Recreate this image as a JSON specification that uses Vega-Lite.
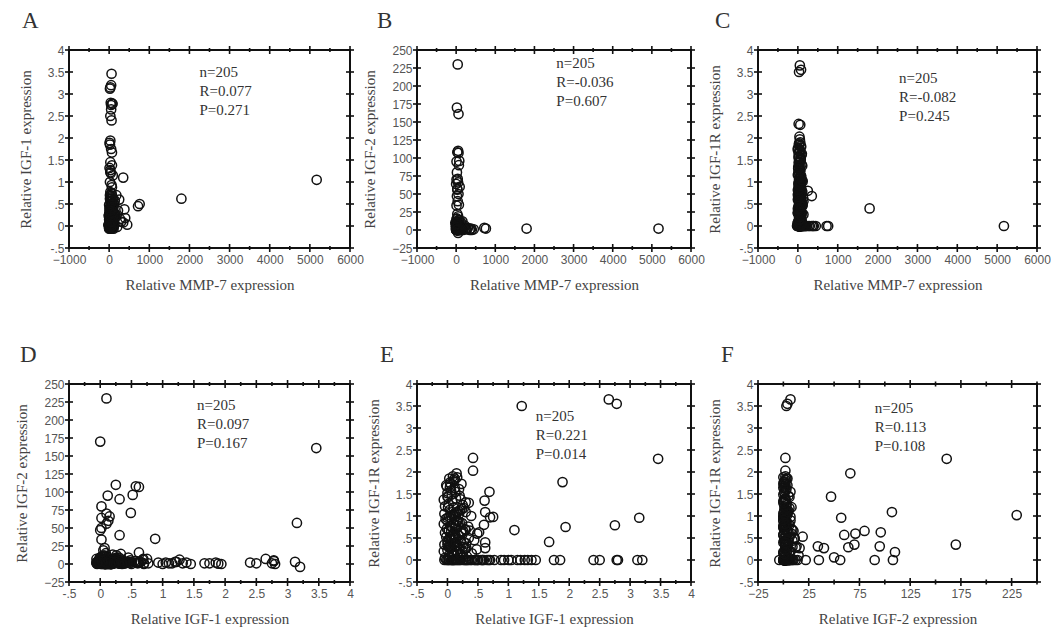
{
"$schema": "https://vega.github.io/schema/vega-lite/v6.json",
"background": "white",
"padding": {"left": 13, "top": 8, "right": 5, "bottom": 5},
"bounds": "flush",
"align": "each",
"columns": 3,
"spacing": {"row": 136, "column": 67},
"config": {
  "view": {"stroke": "#111", "strokeWidth": 2},
  "axis": {"grid": false, "domain": false, "ticks": false, "labelFont": "Liberation Sans", "labelFontSize": 12, "labelColor": "#555", "labelFlush": false, "labelOverlap": false, "labelBound": false, "titleFont": "Liberation Serif", "titleFontSize": 15, "titleFontWeight": "normal", "titleColor": "#444"},
  "axisX": {"titlePadding": 12, "labelPadding": 6},
  "axisY": {"titlePadding": 14, "labelPadding": 5},
  "title": {"font": "Liberation Serif", "fontSize": 23, "fontWeight": "normal", "color": "#333"}
},
"datasets": {
"tMMP": [{"v":-1000},{"v":-500},{"v":0},{"v":500},{"v":1000},{"v":1500},{"v":2000},{"v":2500},{"v":3000},{"v":3500},{"v":4000},{"v":4500},{"v":5000},{"v":5500},{"v":6000}],
"tIGF": [{"v":-0.5},{"v":0},{"v":0.5},{"v":1},{"v":1.5},{"v":2},{"v":2.5},{"v":3},{"v":3.5},{"v":4}],
"tIGFx": [{"v":-0.5},{"v":-0.25},{"v":0},{"v":0.25},{"v":0.5},{"v":0.75},{"v":1},{"v":1.25},{"v":1.5},{"v":1.75},{"v":2},{"v":2.25},{"v":2.5},{"v":2.75},{"v":3},{"v":3.25},{"v":3.5},{"v":3.75},{"v":4}],
"tIGF2": [{"v":-25},{"v":0},{"v":25},{"v":50},{"v":75},{"v":100},{"v":125},{"v":150},{"v":175},{"v":200},{"v":225},{"v":250}],
"samples": [
{"mmp7":40,"igf1":0.10,"igf2":230,"igf1r":1.02},
{"mmp7":20,"igf1":0.00,"igf2":170,"igf1r":0.35},
{"mmp7":60,"igf1":3.46,"igf2":161,"igf1r":2.30},
{"mmp7":30,"igf1":3.15,"igf2":57,"igf1r":0.96},
{"mmp7":50,"igf1":0.25,"igf2":110,"igf1r":0.18},
{"mmp7":10,"igf1":0.12,"igf2":95,"igf1r":0.31},
{"mmp7":70,"igf1":0.31,"igf2":90,"igf1r":0.00},
{"mmp7":20,"igf1":0.02,"igf2":80,"igf1r":0.66},
{"mmp7":80,"igf1":0.52,"igf2":96,"igf1r":0.63},
{"mmp7":30,"igf1":0.57,"igf2":108,"igf1r":0.00},
{"mmp7":60,"igf1":0.62,"igf2":107,"igf1r":1.09},
{"mmp7":40,"igf1":0.49,"igf2":71,"igf1r":0.60},
{"mmp7":10,"igf1":0.10,"igf2":70,"igf1r":0.35},
{"mmp7":50,"igf1":0.15,"igf2":66,"igf1r":1.97},
{"mmp7":0,"igf1":0.02,"igf2":64,"igf1r":0.29},
{"mmp7":90,"igf1":0.13,"igf2":60,"igf1r":0.57},
{"mmp7":30,"igf1":0.10,"igf2":56,"igf1r":0.00},
{"mmp7":20,"igf1":0.00,"igf2":47,"igf1r":1.44},
{"mmp7":60,"igf1":0.02,"igf2":50,"igf1r":0.06},
{"mmp7":40,"igf1":0.31,"igf2":40,"igf1r":0.27},
{"mmp7":10,"igf1":0.02,"igf2":34,"igf1r":0.31},
{"mmp7":70,"igf1":0.88,"igf2":35,"igf1r":0.00},
{"mmp7":30,"igf1":0.07,"igf2":22,"igf1r":0.00},
{"mmp7":50,"igf1":0.05,"igf2":19,"igf1r":0.53},
{"mmp7":20,"igf1":0.62,"igf2":16,"igf1r":0.27},
{"mmp7":80,"igf1":0.20,"igf2":13,"igf1r":0.31},
{"mmp7":40,"igf1":0.10,"igf2":11,"igf1r":0.50},
{"mmp7":60,"igf1":0.30,"igf2":9,"igf1r":0.68},
{"mmp7":30,"igf1":1.27,"igf2":6,"igf1r":0.00},
{"mmp7":30,"igf1":1.22,"igf2":3,"igf1r":3.50},
{"mmp7":50,"igf1":2.65,"igf2":7,"igf1r":3.65},
{"mmp7":80,"igf1":2.78,"igf2":4,"igf1r":3.55},
{"mmp7":20,"igf1":0.42,"igf2":2,"igf1r":2.32},
{"mmp7":40,"igf1":0.42,"igf2":2,"igf1r":2.03},
{"mmp7":10,"igf1":1.89,"igf2":0.5,"igf1r":1.77},
{"mmp7":30,"igf1":0.12,"igf2":3,"igf1r":1.85},
{"mmp7":20,"igf1":0.04,"igf2":1,"igf1r":1.65},
{"mmp7":50,"igf1":0.23,"igf2":2,"igf1r":1.73},
{"mmp7":70,"igf1":0.69,"igf2":7,"igf1r":1.55},
{"mmp7":40,"igf1":0.61,"igf2":2,"igf1r":1.35},
{"mmp7":60,"igf1":0.75,"igf2":7,"igf1r":0.98},
{"mmp7":20,"igf1":0.70,"igf2":1,"igf1r":0.97},
{"mmp7":80,"igf1":0.39,"igf2":1,"igf1r":1.00},
{"mmp7":350,"igf1":1.10,"igf2":1,"igf1r":0.68},
{"mmp7":30,"igf1":1.94,"igf2":0,"igf1r":0.75},
{"mmp7":50,"igf1":2.75,"igf2":1,"igf1r":0.79},
{"mmp7":70,"igf1":1.67,"igf2":1,"igf1r":0.41},
{"mmp7":1800,"igf1":0.62,"igf2":2,"igf1r":0.40},
{"mmp7":40,"igf1":0.37,"igf2":4,"igf1r":0.67},
{"mmp7":5170,"igf1":1.05,"igf2":2,"igf1r":0.00},
{"mmp7":720,"igf1":0.45,"igf2":3,"igf1r":0.00},
{"mmp7":760,"igf1":0.50,"igf2":2,"igf1r":0.00},
{"mmp7":250,"igf1":0.60,"igf2":2,"igf1r":0.80},
{"mmp7":30,"igf1":0.77,"igf2":1,"igf1r":0},
{"mmp7":60,"igf1":0.93,"igf2":2,"igf1r":0},
{"mmp7":20,"igf1":1.00,"igf2":0,"igf1r":0},
{"mmp7":90,"igf1":1.15,"igf2":1,"igf1r":0},
{"mmp7":40,"igf1":1.20,"igf2":3,"igf1r":0},
{"mmp7":10,"igf1":1.32,"igf2":1,"igf1r":0},
{"mmp7":70,"igf1":1.38,"igf2":2,"igf1r":0},
{"mmp7":30,"igf1":1.45,"igf2":0,"igf1r":0},
{"mmp7":50,"igf1":1.75,"igf2":1,"igf1r":0},
{"mmp7":20,"igf1":1.85,"igf2":2,"igf1r":0},
{"mmp7":60,"igf1":2.40,"igf2":2,"igf1r":0},
{"mmp7":30,"igf1":2.50,"igf2":1,"igf1r":0},
{"mmp7":80,"igf1":2.78,"igf2":5,"igf1r":0},
{"mmp7":40,"igf1":2.80,"igf2":0,"igf1r":0},
{"mmp7":20,"igf1":3.12,"igf2":3,"igf1r":0},
{"mmp7":50,"igf1":3.20,"igf2":-4,"igf1r":0},
{"mmp7":0,"igf1":-0.05,"igf2":0,"igf1r":0},
{"mmp7":120,"igf1":0,"igf2":2,"igf1r":0},
{"mmp7":450,"igf1":0.03,"igf2":1,"igf1r":0},
{"mmp7":60,"igf1":0.06,"igf2":5,"igf1r":0},
{"mmp7":300,"igf1":0.1,"igf2":3,"igf1r":0},
{"mmp7":20,"igf1":0.14,"igf2":8,"igf1r":0},
{"mmp7":400,"igf1":0.18,"igf2":0,"igf1r":0},
{"mmp7":90,"igf1":0.22,"igf2":4,"igf1r":0},
{"mmp7":160,"igf1":0.26,"igf2":12,"igf1r":0},
{"mmp7":40,"igf1":0.3,"igf2":1,"igf1r":0},
{"mmp7":220,"igf1":0.35,"igf2":6,"igf1r":0},
{"mmp7":10,"igf1":0.4,"igf2":2,"igf1r":0},
{"mmp7":70,"igf1":0.45,"igf2":9,"igf1r":0},
{"mmp7":130,"igf1":0.5,"igf2":0,"igf1r":0},
{"mmp7":30,"igf1":0.55,"igf2":4,"igf1r":0},
{"mmp7":100,"igf1":0.6,"igf2":1,"igf1r":0},
{"mmp7":50,"igf1":0.65,"igf2":3,"igf1r":0},
{"mmp7":180,"igf1":0.7,"igf2":0,"igf1r":0},
{"mmp7":-20,"igf1":0.02,"igf2":10,"igf1r":0},
{"mmp7":350,"igf1":0.08,"igf2":0,"igf1r":0},
{"mmp7":80,"igf1":0.12,"igf2":2,"igf1r":0},
{"mmp7":270,"igf1":0.16,"igf2":1,"igf1r":0},
{"mmp7":20,"igf1":0.2,"igf2":7,"igf1r":0},
{"mmp7":110,"igf1":0.28,"igf2":3,"igf1r":0},
{"mmp7":60,"igf1":0.33,"igf2":14,"igf1r":0},
{"mmp7":380,"igf1":0.38,"igf2":2,"igf1r":0},
{"mmp7":0,"igf1":0.48,"igf2":5,"igf1r":0},
{"mmp7":140,"igf1":0.58,"igf2":2,"igf1r":0},
{"mmp7":30,"igf1":0.68,"igf2":6,"igf1r":0},
{"mmp7":200,"igf1":-0.02,"igf2":3,"igf1r":0},
{"mmp7":10,"igf1":-0.04,"igf2":1,"igf1r":0.05},
{"mmp7":50,"igf1":0.02,"igf2":3,"igf1r":0.1},
{"mmp7":90,"igf1":0.08,"igf2":0,"igf1r":0.15},
{"mmp7":30,"igf1":0.14,"igf2":6,"igf1r":0.2},
{"mmp7":70,"igf1":0.2,"igf2":2,"igf1r":0.25},
{"mmp7":0,"igf1":0.26,"igf2":9,"igf1r":0.3},
{"mmp7":110,"igf1":0.32,"igf2":1,"igf1r":0.08},
{"mmp7":40,"igf1":0.0,"igf2":4,"igf1r":0.22},
{"mmp7":20,"igf1":0.06,"igf2":12,"igf1r":0.28},
{"mmp7":80,"igf1":0.11,"igf2":2,"igf1r":0.12},
{"mmp7":60,"igf1":0.17,"igf2":0,"igf1r":0.18},
{"mmp7":-10,"igf1":0.23,"igf2":5,"igf1r":0.06},
{"mmp7":140,"igf1":0.29,"igf2":3,"igf1r":0.26},
{"mmp7":30,"igf1":0.4,"igf2":1,"igf1r":0.15},
{"mmp7":50,"igf1":-0.06,"igf2":7,"igf1r":0.2},
{"mmp7":100,"igf1":0.04,"igf2":2,"igf1r":0.3},
{"mmp7":10,"igf1":0.09,"igf2":15,"igf1r":0.1},
{"mmp7":70,"igf1":0.15,"igf2":4,"igf1r":0.03},
{"mmp7":40,"igf1":0.21,"igf2":1,"igf1r":0.14},
{"mmp7":90,"igf1":0.48,"igf2":2,"igf1r":0.24},
{"mmp7":20,"igf1":-0.05,"igf2":2,"igf1r":0.35},
{"mmp7":60,"igf1":0.01,"igf2":0,"igf1r":0.4},
{"mmp7":100,"igf1":0.07,"igf2":5,"igf1r":0.45},
{"mmp7":30,"igf1":0.13,"igf2":1,"igf1r":0.5},
{"mmp7":80,"igf1":0.19,"igf2":3,"igf1r":0.55},
{"mmp7":0,"igf1":0.25,"igf2":8,"igf1r":0.6},
{"mmp7":50,"igf1":0.31,"igf2":2,"igf1r":0.38},
{"mmp7":120,"igf1":0.03,"igf2":11,"igf1r":0.48},
{"mmp7":40,"igf1":0.09,"igf2":0,"igf1r":0.58},
{"mmp7":70,"igf1":0.16,"igf2":4,"igf1r":0.33},
{"mmp7":10,"igf1":0.22,"igf2":1,"igf1r":0.43},
{"mmp7":90,"igf1":-0.02,"igf2":6,"igf1r":0.52},
{"mmp7":30,"igf1":0.05,"igf2":2,"igf1r":0.36},
{"mmp7":60,"igf1":0.11,"igf2":3,"igf1r":0.46},
{"mmp7":140,"igf1":0.18,"igf2":0,"igf1r":0.56},
{"mmp7":20,"igf1":0.27,"igf2":5,"igf1r":0.41},
{"mmp7":50,"igf1":0.35,"igf2":1,"igf1r":0.5},
{"mmp7":80,"igf1":0.0,"igf2":9,"igf1r":0.44},
{"mmp7":0,"igf1":0.14,"igf2":2,"igf1r":0.39},
{"mmp7":110,"igf1":0.44,"igf2":3,"igf1r":0.45},
{"mmp7":40,"igf1":-0.04,"igf2":1,"igf1r":0.62},
{"mmp7":70,"igf1":0.02,"igf2":4,"igf1r":0.68},
{"mmp7":10,"igf1":0.08,"igf2":0,"igf1r":0.74},
{"mmp7":100,"igf1":0.14,"igf2":6,"igf1r":0.8},
{"mmp7":30,"igf1":0.2,"igf2":2,"igf1r":0.86},
{"mmp7":60,"igf1":0.26,"igf2":3,"igf1r":0.65},
{"mmp7":0,"igf1":-0.01,"igf2":8,"igf1r":0.71},
{"mmp7":90,"igf1":0.05,"igf2":1,"igf1r":0.77},
{"mmp7":50,"igf1":0.11,"igf2":2,"igf1r":0.83},
{"mmp7":20,"igf1":0.17,"igf2":0,"igf1r":0.89},
{"mmp7":130,"igf1":0.23,"igf2":5,"igf1r":0.64},
{"mmp7":40,"igf1":0.29,"igf2":1,"igf1r":0.7},
{"mmp7":80,"igf1":0.0,"igf2":3,"igf1r":0.88},
{"mmp7":10,"igf1":0.06,"igf2":10,"igf1r":0.66},
{"mmp7":60,"igf1":0.12,"igf2":2,"igf1r":0.72},
{"mmp7":110,"igf1":0.18,"igf2":0,"igf1r":0.78},
{"mmp7":30,"igf1":0.24,"igf2":4,"igf1r":0.84},
{"mmp7":70,"igf1":0.34,"igf2":2,"igf1r":0.76},
{"mmp7":0,"igf1":-0.06,"igf2":1,"igf1r":0.82},
{"mmp7":50,"igf1":0.15,"igf2":7,"igf1r":0.9},
{"mmp7":20,"igf1":-0.03,"igf2":2,"igf1r":0.93},
{"mmp7":60,"igf1":0.03,"igf2":0,"igf1r":0.98},
{"mmp7":100,"igf1":0.09,"igf2":4,"igf1r":1.03},
{"mmp7":40,"igf1":0.15,"igf2":1,"igf1r":1.08},
{"mmp7":80,"igf1":0.21,"igf2":3,"igf1r":1.13},
{"mmp7":10,"igf1":0.27,"igf2":6,"igf1r":1.18},
{"mmp7":50,"igf1":0.0,"igf2":1,"igf1r":0.96},
{"mmp7":120,"igf1":0.06,"igf2":2,"igf1r":1.01},
{"mmp7":30,"igf1":0.12,"igf2":0,"igf1r":1.06},
{"mmp7":70,"igf1":0.18,"igf2":5,"igf1r":1.11},
{"mmp7":0,"igf1":0.24,"igf2":2,"igf1r":1.16},
{"mmp7":90,"igf1":-0.05,"igf2":3,"igf1r":1.05},
{"mmp7":40,"igf1":0.01,"igf2":8,"igf1r":1.2},
{"mmp7":60,"igf1":0.07,"igf2":1,"igf1r":0.94},
{"mmp7":20,"igf1":0.13,"igf2":0,"igf1r":0.99},
{"mmp7":110,"igf1":0.19,"igf2":2,"igf1r":1.04},
{"mmp7":50,"igf1":0.3,"igf2":4,"igf1r":1.09},
{"mmp7":80,"igf1":0.04,"igf2":1,"igf1r":1.14},
{"mmp7":10,"igf1":0.1,"igf2":3,"igf1r":1.19},
{"mmp7":70,"igf1":0.16,"igf2":0,"igf1r":0.91},
{"mmp7":30,"igf1":-0.04,"igf2":1,"igf1r":1.22},
{"mmp7":60,"igf1":0.02,"igf2":3,"igf1r":1.28},
{"mmp7":10,"igf1":0.08,"igf2":0,"igf1r":1.34},
{"mmp7":90,"igf1":0.14,"igf2":2,"igf1r":1.4},
{"mmp7":40,"igf1":0.2,"igf2":5,"igf1r":1.46},
{"mmp7":70,"igf1":0.0,"igf2":1,"igf1r":1.52},
{"mmp7":20,"igf1":0.06,"igf2":2,"igf1r":1.58},
{"mmp7":100,"igf1":0.12,"igf2":0,"igf1r":1.64},
{"mmp7":50,"igf1":-0.02,"igf2":4,"igf1r":1.7},
{"mmp7":0,"igf1":0.04,"igf2":1,"igf1r":1.76},
{"mmp7":80,"igf1":0.1,"igf2":2,"igf1r":1.82},
{"mmp7":30,"igf1":0.16,"igf2":0,"igf1r":1.88},
{"mmp7":60,"igf1":0.25,"igf2":3,"igf1r":1.25},
{"mmp7":10,"igf1":0.3,"igf2":1,"igf1r":1.31},
{"mmp7":110,"igf1":-0.06,"igf2":2,"igf1r":1.37},
{"mmp7":40,"igf1":0.01,"igf2":6,"igf1r":1.43},
{"mmp7":70,"igf1":0.07,"igf2":0,"igf1r":1.49},
{"mmp7":20,"igf1":0.13,"igf2":1,"igf1r":1.55},
{"mmp7":90,"igf1":0.19,"igf2":3,"igf1r":1.61},
{"mmp7":50,"igf1":-0.01,"igf2":2,"igf1r":1.67},
{"mmp7":0,"igf1":0.05,"igf2":0,"igf1r":1.73},
{"mmp7":80,"igf1":0.11,"igf2":1,"igf1r":1.79},
{"mmp7":30,"igf1":0.03,"igf2":4,"igf1r":1.85},
{"mmp7":60,"igf1":0.09,"igf2":2,"igf1r":1.9},
{"mmp7":10,"igf1":0.35,"igf2":0,"igf1r":1.3},
{"mmp7":40,"igf1":0.22,"igf2":1,"igf1r":1.38}
]
},
"concat": [
{
"width": 281, "height": 198,
"title": {"text": "A", "anchor": "start", "frame": "group", "dx": -47, "offset": -8, "baseline": "alphabetic"},
"layer": [
{"data": {"name": "samples"},
 "mark": {"type": "point", "shape": "circle", "filled": false, "size": 85, "strokeWidth": 1.5, "color": "#111", "opacity": 1},
 "encoding": {
  "x": {"field": "mmp7", "type": "quantitative", "scale": {"domain": [-1000, 6000], "nice": false, "zero": false},
        "axis": {"title": "Relative MMP-7 expression", "values": [-1000,0,1000,2000,3000,4000,5000,6000], "format": "d"}},
  "y": {"field": "igf1", "type": "quantitative", "scale": {"domain": [-0.5, 4], "nice": false, "zero": false},
        "axis": {"title": "Relative IGF-1 expression", "values": [-0.5,0,0.5,1,1.5,2,2.5,3,3.5,4], "format": "~g", "labelExpr": "datum.value == 0.5 ? '.5' : datum.value == -0.5 ? '-.5' : datum.label"}}
 }},
{"data": {"values": [{}]}, "mark": {"type": "point", "shape": "M-1,-0.70463H1V0.70463H-1Z", "size": 78961, "filled": false, "stroke": "#111", "strokeWidth": 2, "opacity": 1}, "encoding": {"x": {"datum": 2500, "type": "quantitative", "axis": null}, "y": {"datum": 1.75, "type": "quantitative", "axis": null}}},
{"data": {"name": "tMMP"}, "mark": {"type": "point", "shape": "M0,-1V1", "filled": false, "stroke": "#111", "strokeWidth": 1.6, "opacity": 1}, "encoding": {"x": {"field": "v", "type": "quantitative", "axis": null}, "y": {"datum": -0.5, "type": "quantitative", "axis": null}, "size": {"condition": {"test": "datum.v % 1000 == 0", "value": 64}, "value": 16}}},
{"data": {"name": "tMMP"}, "mark": {"type": "point", "shape": "M0,-1V1", "filled": false, "stroke": "#111", "strokeWidth": 1.6, "opacity": 1}, "encoding": {"x": {"field": "v", "type": "quantitative", "axis": null}, "y": {"datum": 4, "type": "quantitative", "axis": null}, "size": {"condition": {"test": "datum.v % 1000 == 0", "value": 64}, "value": 16}}},
{"data": {"name": "tIGF"}, "mark": {"type": "point", "shape": "M-1,0H1", "filled": false, "stroke": "#111", "strokeWidth": 1.6, "opacity": 1}, "encoding": {"y": {"field": "v", "type": "quantitative", "axis": null}, "x": {"datum": -1000, "type": "quantitative", "axis": null}, "size": {"value": 64}}},
{"data": {"name": "tIGF"}, "mark": {"type": "point", "shape": "M-1,0H1", "filled": false, "stroke": "#111", "strokeWidth": 1.6, "opacity": 1}, "encoding": {"y": {"field": "v", "type": "quantitative", "axis": null}, "x": {"datum": 6000, "type": "quantitative", "axis": null}, "size": {"value": 64}}},
{"data": {"values": [{"label": "n=205\nR=0.077\nP=0.271"}]},
 "mark": {"type": "text", "align": "left", "baseline": "top", "lineBreak": "\n", "font": "Liberation Serif", "fontSize": 15, "lineHeight": 19, "color": "#333"},
 "encoding": {
  "x": {"datum": 2250, "type": "quantitative", "axis": null},
  "y": {"datum": 3.65, "type": "quantitative", "axis": null},
  "text": {"field": "label"}
 }}
],
"resolve": {"axis": {"x": "independent", "y": "independent"}}
},
{
"width": 274, "height": 198,
"title": {"text": "B", "anchor": "start", "frame": "group", "dx": -40, "offset": -8, "baseline": "alphabetic"},
"layer": [
{"data": {"name": "samples"},
 "mark": {"type": "point", "shape": "circle", "filled": false, "size": 85, "strokeWidth": 1.5, "color": "#111", "opacity": 1},
 "encoding": {
  "x": {"field": "mmp7", "type": "quantitative", "scale": {"domain": [-1000, 6000], "nice": false, "zero": false},
        "axis": {"title": "Relative MMP-7 expression", "values": [-1000,0,1000,2000,3000,4000,5000,6000], "format": "d"}},
  "y": {"field": "igf2", "type": "quantitative", "scale": {"domain": [-25, 250], "nice": false, "zero": false},
        "axis": {"title": "Relative IGF-2 expression", "values": [-25,0,25,50,75,100,125,150,175,200,225,250], "format": "d"}}
 }},
{"data": {"values": [{}]}, "mark": {"type": "point", "shape": "M-1,-0.72263H1V0.72263H-1Z", "size": 75076, "filled": false, "stroke": "#111", "strokeWidth": 2, "opacity": 1}, "encoding": {"x": {"datum": 2500, "type": "quantitative", "axis": null}, "y": {"datum": 112.5, "type": "quantitative", "axis": null}}},
{"data": {"name": "tMMP"}, "mark": {"type": "point", "shape": "M0,-1V1", "filled": false, "stroke": "#111", "strokeWidth": 1.6, "opacity": 1}, "encoding": {"x": {"field": "v", "type": "quantitative", "axis": null}, "y": {"datum": -25, "type": "quantitative", "axis": null}, "size": {"condition": {"test": "datum.v % 1000 == 0", "value": 64}, "value": 16}}},
{"data": {"name": "tMMP"}, "mark": {"type": "point", "shape": "M0,-1V1", "filled": false, "stroke": "#111", "strokeWidth": 1.6, "opacity": 1}, "encoding": {"x": {"field": "v", "type": "quantitative", "axis": null}, "y": {"datum": 250, "type": "quantitative", "axis": null}, "size": {"condition": {"test": "datum.v % 1000 == 0", "value": 64}, "value": 16}}},
{"data": {"name": "tIGF2"}, "mark": {"type": "point", "shape": "M-1,0H1", "filled": false, "stroke": "#111", "strokeWidth": 1.6, "opacity": 1}, "encoding": {"y": {"field": "v", "type": "quantitative", "axis": null}, "x": {"datum": -1000, "type": "quantitative", "axis": null}, "size": {"value": 64}}},
{"data": {"name": "tIGF2"}, "mark": {"type": "point", "shape": "M-1,0H1", "filled": false, "stroke": "#111", "strokeWidth": 1.6, "opacity": 1}, "encoding": {"y": {"field": "v", "type": "quantitative", "axis": null}, "x": {"datum": 6000, "type": "quantitative", "axis": null}, "size": {"value": 64}}},
{"data": {"values": [{"label": "n=205\nR=-0.036\nP=0.607"}]},
 "mark": {"type": "text", "align": "left", "baseline": "top", "lineBreak": "\n", "font": "Liberation Serif", "fontSize": 15, "lineHeight": 19, "color": "#333"},
 "encoding": {
  "x": {"datum": 2560, "type": "quantitative", "axis": null},
  "y": {"datum": 242, "type": "quantitative", "axis": null},
  "text": {"field": "label"}
 }}
],
"resolve": {"axis": {"x": "independent", "y": "independent"}}
},
{
"width": 279, "height": 198,
"title": {"text": "C", "anchor": "start", "frame": "group", "dx": -43, "offset": -8, "baseline": "alphabetic"},
"layer": [
{"data": {"name": "samples"},
 "mark": {"type": "point", "shape": "circle", "filled": false, "size": 85, "strokeWidth": 1.5, "color": "#111", "opacity": 1},
 "encoding": {
  "x": {"field": "mmp7", "type": "quantitative", "scale": {"domain": [-1000, 6000], "nice": false, "zero": false},
        "axis": {"title": "Relative MMP-7 expression", "values": [-1000,0,1000,2000,3000,4000,5000,6000], "format": "d"}},
  "y": {"field": "igf1r", "type": "quantitative", "scale": {"domain": [-0.5, 4], "nice": false, "zero": false},
        "axis": {"title": "Relative IGF-1R expression", "values": [-0.5,0,0.5,1,1.5,2,2.5,3,3.5,4], "format": "~g", "labelExpr": "datum.value == 0.5 ? '.5' : datum.value == -0.5 ? '-.5' : datum.label"}}
 }},
{"data": {"values": [{}]}, "mark": {"type": "point", "shape": "M-1,-0.70968H1V0.70968H-1Z", "size": 77841, "filled": false, "stroke": "#111", "strokeWidth": 2, "opacity": 1}, "encoding": {"x": {"datum": 2500, "type": "quantitative", "axis": null}, "y": {"datum": 1.75, "type": "quantitative", "axis": null}}},
{"data": {"name": "tMMP"}, "mark": {"type": "point", "shape": "M0,-1V1", "filled": false, "stroke": "#111", "strokeWidth": 1.6, "opacity": 1}, "encoding": {"x": {"field": "v", "type": "quantitative", "axis": null}, "y": {"datum": -0.5, "type": "quantitative", "axis": null}, "size": {"condition": {"test": "datum.v % 1000 == 0", "value": 64}, "value": 16}}},
{"data": {"name": "tMMP"}, "mark": {"type": "point", "shape": "M0,-1V1", "filled": false, "stroke": "#111", "strokeWidth": 1.6, "opacity": 1}, "encoding": {"x": {"field": "v", "type": "quantitative", "axis": null}, "y": {"datum": 4, "type": "quantitative", "axis": null}, "size": {"condition": {"test": "datum.v % 1000 == 0", "value": 64}, "value": 16}}},
{"data": {"name": "tIGF"}, "mark": {"type": "point", "shape": "M-1,0H1", "filled": false, "stroke": "#111", "strokeWidth": 1.6, "opacity": 1}, "encoding": {"y": {"field": "v", "type": "quantitative", "axis": null}, "x": {"datum": -1000, "type": "quantitative", "axis": null}, "size": {"value": 64}}},
{"data": {"name": "tIGF"}, "mark": {"type": "point", "shape": "M-1,0H1", "filled": false, "stroke": "#111", "strokeWidth": 1.6, "opacity": 1}, "encoding": {"y": {"field": "v", "type": "quantitative", "axis": null}, "x": {"datum": 6000, "type": "quantitative", "axis": null}, "size": {"value": 64}}},
{"data": {"values": [{"label": "n=205\nR=-0.082\nP=0.245"}]},
 "mark": {"type": "text", "align": "left", "baseline": "top", "lineBreak": "\n", "font": "Liberation Serif", "fontSize": 15, "lineHeight": 19, "color": "#333"},
 "encoding": {
  "x": {"datum": 2540, "type": "quantitative", "axis": null},
  "y": {"datum": 3.52, "type": "quantitative", "axis": null},
  "text": {"field": "label"}
 }}
],
"resolve": {"axis": {"x": "independent", "y": "independent"}}
},
{
"width": 281, "height": 198,
"title": {"text": "D", "anchor": "start", "frame": "group", "dx": -49, "offset": -8, "baseline": "alphabetic"},
"layer": [
{"data": {"name": "samples"},
 "mark": {"type": "point", "shape": "circle", "filled": false, "size": 85, "strokeWidth": 1.5, "color": "#111", "opacity": 1},
 "encoding": {
  "x": {"field": "igf1", "type": "quantitative", "scale": {"domain": [-0.5, 4], "nice": false, "zero": false},
        "axis": {"title": "Relative IGF-1 expression", "values": [-0.5,0,0.5,1,1.5,2,2.5,3,3.5,4], "format": "~g", "labelExpr": "datum.value == 0.5 ? '.5' : datum.value == -0.5 ? '-.5' : datum.label"}},
  "y": {"field": "igf2", "type": "quantitative", "scale": {"domain": [-25, 250], "nice": false, "zero": false},
        "axis": {"title": "Relative IGF-2 expression", "values": [-25,0,25,50,75,100,125,150,175,200,225,250], "format": "d"}}
 }},
{"data": {"values": [{}]}, "mark": {"type": "point", "shape": "M-1,-0.70463H1V0.70463H-1Z", "size": 78961, "filled": false, "stroke": "#111", "strokeWidth": 2, "opacity": 1}, "encoding": {"x": {"datum": 1.75, "type": "quantitative", "axis": null}, "y": {"datum": 112.5, "type": "quantitative", "axis": null}}},
{"data": {"name": "tIGFx"}, "mark": {"type": "point", "shape": "M0,-1V1", "filled": false, "stroke": "#111", "strokeWidth": 1.6, "opacity": 1}, "encoding": {"x": {"field": "v", "type": "quantitative", "axis": null}, "y": {"datum": -25, "type": "quantitative", "axis": null}, "size": {"condition": {"test": "datum.v % 0.5 == 0", "value": 64}, "value": 16}}},
{"data": {"name": "tIGFx"}, "mark": {"type": "point", "shape": "M0,-1V1", "filled": false, "stroke": "#111", "strokeWidth": 1.6, "opacity": 1}, "encoding": {"x": {"field": "v", "type": "quantitative", "axis": null}, "y": {"datum": 250, "type": "quantitative", "axis": null}, "size": {"condition": {"test": "datum.v % 0.5 == 0", "value": 64}, "value": 16}}},
{"data": {"name": "tIGF2"}, "mark": {"type": "point", "shape": "M-1,0H1", "filled": false, "stroke": "#111", "strokeWidth": 1.6, "opacity": 1}, "encoding": {"y": {"field": "v", "type": "quantitative", "axis": null}, "x": {"datum": -0.5, "type": "quantitative", "axis": null}, "size": {"value": 64}}},
{"data": {"name": "tIGF2"}, "mark": {"type": "point", "shape": "M-1,0H1", "filled": false, "stroke": "#111", "strokeWidth": 1.6, "opacity": 1}, "encoding": {"y": {"field": "v", "type": "quantitative", "axis": null}, "x": {"datum": 4, "type": "quantitative", "axis": null}, "size": {"value": 64}}},
{"data": {"values": [{"label": "n=205\nR=0.097\nP=0.167"}]},
 "mark": {"type": "text", "align": "left", "baseline": "top", "lineBreak": "\n", "font": "Liberation Serif", "fontSize": 15, "lineHeight": 19, "color": "#333"},
 "encoding": {
  "x": {"datum": 1.55, "type": "quantitative", "axis": null},
  "y": {"datum": 231, "type": "quantitative", "axis": null},
  "text": {"field": "label"}
 }}
],
"resolve": {"axis": {"x": "independent", "y": "independent"}}
},
{
"width": 274, "height": 198,
"title": {"text": "E", "anchor": "start", "frame": "group", "dx": -37, "offset": -8, "baseline": "alphabetic"},
"layer": [
{"data": {"name": "samples"},
 "mark": {"type": "point", "shape": "circle", "filled": false, "size": 85, "strokeWidth": 1.5, "color": "#111", "opacity": 1},
 "encoding": {
  "x": {"field": "igf1", "type": "quantitative", "scale": {"domain": [-0.5, 4], "nice": false, "zero": false},
        "axis": {"title": "Relative IGF-1 expression", "values": [-0.5,0,0.5,1,1.5,2,2.5,3,3.5,4], "format": "~g", "labelExpr": "datum.value == 0.5 ? '.5' : datum.value == -0.5 ? '-.5' : datum.label"}},
  "y": {"field": "igf1r", "type": "quantitative", "scale": {"domain": [-0.5, 4], "nice": false, "zero": false},
        "axis": {"title": "Relative IGF-1R expression", "values": [-0.5,0,0.5,1,1.5,2,2.5,3,3.5,4], "format": "~g", "labelExpr": "datum.value == 0.5 ? '.5' : datum.value == -0.5 ? '-.5' : datum.label"}}
 }},
{"data": {"values": [{}]}, "mark": {"type": "point", "shape": "M-1,-0.72263H1V0.72263H-1Z", "size": 75076, "filled": false, "stroke": "#111", "strokeWidth": 2, "opacity": 1}, "encoding": {"x": {"datum": 1.75, "type": "quantitative", "axis": null}, "y": {"datum": 1.75, "type": "quantitative", "axis": null}}},
{"data": {"name": "tIGFx"}, "mark": {"type": "point", "shape": "M0,-1V1", "filled": false, "stroke": "#111", "strokeWidth": 1.6, "opacity": 1}, "encoding": {"x": {"field": "v", "type": "quantitative", "axis": null}, "y": {"datum": -0.5, "type": "quantitative", "axis": null}, "size": {"condition": {"test": "datum.v % 0.5 == 0", "value": 64}, "value": 16}}},
{"data": {"name": "tIGFx"}, "mark": {"type": "point", "shape": "M0,-1V1", "filled": false, "stroke": "#111", "strokeWidth": 1.6, "opacity": 1}, "encoding": {"x": {"field": "v", "type": "quantitative", "axis": null}, "y": {"datum": 4, "type": "quantitative", "axis": null}, "size": {"condition": {"test": "datum.v % 0.5 == 0", "value": 64}, "value": 16}}},
{"data": {"name": "tIGF"}, "mark": {"type": "point", "shape": "M-1,0H1", "filled": false, "stroke": "#111", "strokeWidth": 1.6, "opacity": 1}, "encoding": {"y": {"field": "v", "type": "quantitative", "axis": null}, "x": {"datum": -0.5, "type": "quantitative", "axis": null}, "size": {"value": 64}}},
{"data": {"name": "tIGF"}, "mark": {"type": "point", "shape": "M-1,0H1", "filled": false, "stroke": "#111", "strokeWidth": 1.6, "opacity": 1}, "encoding": {"y": {"field": "v", "type": "quantitative", "axis": null}, "x": {"datum": 4, "type": "quantitative", "axis": null}, "size": {"value": 64}}},
{"data": {"values": [{"label": "n=205\nR=0.221\nP=0.014"}]},
 "mark": {"type": "text", "align": "left", "baseline": "top", "lineBreak": "\n", "font": "Liberation Serif", "fontSize": 15, "lineHeight": 19, "color": "#333"},
 "encoding": {
  "x": {"datum": 1.45, "type": "quantitative", "axis": null},
  "y": {"datum": 3.43, "type": "quantitative", "axis": null},
  "text": {"field": "label"}
 }}
],
"resolve": {"axis": {"x": "independent", "y": "independent"}}
},
{
"width": 279, "height": 198,
"title": {"text": "F", "anchor": "start", "frame": "group", "dx": -37, "offset": -8, "baseline": "alphabetic"},
"layer": [
{"data": {"name": "samples"},
 "mark": {"type": "point", "shape": "circle", "filled": false, "size": 85, "strokeWidth": 1.5, "color": "#111", "opacity": 1},
 "encoding": {
  "x": {"field": "igf2", "type": "quantitative", "scale": {"domain": [-25, 250], "nice": false, "zero": false},
        "axis": {"title": "Relative IGF-2 expression", "values": [-25,25,75,125,175,225], "format": "d"}},
  "y": {"field": "igf1r", "type": "quantitative", "scale": {"domain": [-0.5, 4], "nice": false, "zero": false},
        "axis": {"title": "Relative IGF-1R expression", "values": [-0.5,0,0.5,1,1.5,2,2.5,3,3.5,4], "format": "~g", "labelExpr": "datum.value == 0.5 ? '.5' : datum.value == -0.5 ? '-.5' : datum.label"}}
 }},
{"data": {"values": [{}]}, "mark": {"type": "point", "shape": "M-1,-0.70968H1V0.70968H-1Z", "size": 77841, "filled": false, "stroke": "#111", "strokeWidth": 2, "opacity": 1}, "encoding": {"x": {"datum": 112.5, "type": "quantitative", "axis": null}, "y": {"datum": 1.75, "type": "quantitative", "axis": null}}},
{"data": {"name": "tIGF2"}, "mark": {"type": "point", "shape": "M0,-1V1", "filled": false, "stroke": "#111", "strokeWidth": 1.6, "opacity": 1}, "encoding": {"x": {"field": "v", "type": "quantitative", "axis": null}, "y": {"datum": -0.5, "type": "quantitative", "axis": null}, "size": {"condition": {"test": "(datum.v + 25) % 50 == 0", "value": 64}, "value": 25}}},
{"data": {"name": "tIGF2"}, "mark": {"type": "point", "shape": "M0,-1V1", "filled": false, "stroke": "#111", "strokeWidth": 1.6, "opacity": 1}, "encoding": {"x": {"field": "v", "type": "quantitative", "axis": null}, "y": {"datum": 4, "type": "quantitative", "axis": null}, "size": {"condition": {"test": "(datum.v + 25) % 50 == 0", "value": 64}, "value": 25}}},
{"data": {"name": "tIGF"}, "mark": {"type": "point", "shape": "M-1,0H1", "filled": false, "stroke": "#111", "strokeWidth": 1.6, "opacity": 1}, "encoding": {"y": {"field": "v", "type": "quantitative", "axis": null}, "x": {"datum": -25, "type": "quantitative", "axis": null}, "size": {"value": 64}}},
{"data": {"name": "tIGF"}, "mark": {"type": "point", "shape": "M-1,0H1", "filled": false, "stroke": "#111", "strokeWidth": 1.6, "opacity": 1}, "encoding": {"y": {"field": "v", "type": "quantitative", "axis": null}, "x": {"datum": 250, "type": "quantitative", "axis": null}, "size": {"value": 64}}},
{"data": {"values": [{"label": "n=205\nR=0.113\nP=0.108"}]},
 "mark": {"type": "text", "align": "left", "baseline": "top", "lineBreak": "\n", "font": "Liberation Serif", "fontSize": 15, "lineHeight": 19, "color": "#333"},
 "encoding": {
  "x": {"datum": 90, "type": "quantitative", "axis": null},
  "y": {"datum": 3.61, "type": "quantitative", "axis": null},
  "text": {"field": "label"}
 }}
],
"resolve": {"axis": {"x": "independent", "y": "independent"}}
}
]
}
